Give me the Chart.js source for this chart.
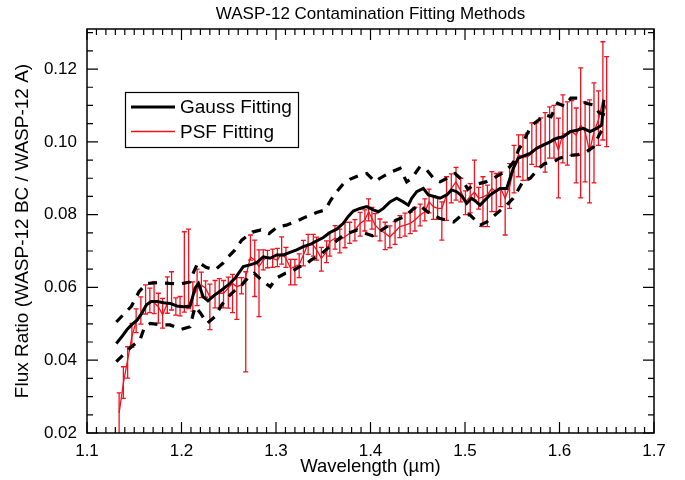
<!DOCTYPE html>
<html><head><meta charset="utf-8">
<script src="https://cdn.jsdelivr.net/npm/chart.js@4"></script>
<style>html,body{margin:0;padding:0;background:#fff}canvas{display:block}</style>
</head><body>
<canvas id="c" width="685" height="480"></canvas>
<script>
// ---- PSF fitting (red, with asymmetric error bars) ----
const psfWave = [1.134,1.1385,1.143,1.1475,1.152,1.157,1.162,1.1665,1.171,1.1755,1.180,1.185,1.1895,1.194,1.1985,1.203,1.2075,
 1.212,1.2165,1.221,1.2255,1.230,1.2355,1.240,1.2445,1.2495,1.254,1.2585,1.2635,1.268,1.273,1.2775,1.282,1.2865,1.291,1.2965,1.3015,1.306,1.3105,1.3155,1.320,1.3245,1.329,
 1.334,1.3395,1.343,1.348,1.3535,1.357,1.3625,1.3675,1.373,1.378,1.3835,1.389,1.394,1.398,1.4015,1.405,1.410,1.4155,1.4205,1.426,1.431,1.4365,1.442,1.447,1.4525,1.4575,
 1.462,1.4665,1.471,1.4755,1.4805,1.4855,1.4905,1.4955,1.5005,1.5055,1.510,1.5145,
 1.519,1.5237,1.5284,1.5331,1.5378,1.5425,1.5472,1.5519,1.5566,1.5613,1.566,1.5707,1.5754,1.5801,1.5848,1.5895,1.5942,1.5989,1.6036,1.6083,1.613,1.6177,1.6224,1.6271,1.6318,1.6365,1.6412,1.6459,1.6499];
const psfFlux = [0.0255,0.0337,0.0401,0.0465,0.0506,0.0529,0.0552,0.0561,0.0558,0.0547,0.0525,0.0556,0.0558,0.0549,0.0547,0.0547,0.0552,
 0.0575,0.0595,0.0607,0.0598,0.0574,0.0579,0.0584,0.0584,0.0598,0.0611,0.0602,0.0607,0.0629,0.0684,0.0675,0.0657,0.0675,0.0684,0.068,0.0675,0.0694,0.068,0.0652,0.0657,0.0662,0.0689,
 0.0721,0.0716,0.0703,0.068,0.0698,0.0726,0.0735,0.073,0.0739,0.0749,0.0758,0.0776,0.0785,0.0808,0.079,0.0771,0.0758,0.0749,0.0739,0.0753,0.0767,0.0771,0.0776,0.0785,0.0799,0.0808,
 0.0835,0.0822,0.0817,0.0817,0.0854,0.0872,0.089,0.0865,0.0835,0.085,0.0862,0.0845,
 0.0849,0.0854,0.0872,0.0863,0.0872,0.0845,0.0877,0.093,0.0964,0.0959,0.0959,0.0968,0.0982,0.0991,0.0996,0.1,0.101,0.0977,0.1023,0.1019,0.1028,0.1019,0.1046,0.1028,0.0973,0.1028,0.106,0.1115,0.1087];
const psfErrLow = [0.007,0.0042,0.005,0.003,0.003,0.003,0.0025,0.003,0.003,0.0045,0.0037,0.0027,0.002,0.0025,0.0025,0.0015,0.001,
 0.004,0.0045,0.0035,0.0025,0.009,0.0035,0.004,0.004,0.0055,0.008,0.009,0.0025,0.0261,0.0009,0.010,0.0137,0.0027,0.003,0.0025,0.0018,0.003,0.0025,0.0045,0.005,0.0035,0.003,
 0.003,0.003,0.0028,0.0035,0.003,0.004,0.003,0.0035,0.003,0.0028,0.003,0.0035,0.003,0.0025,0.003,0.003,0.003,0.0045,0.003,0.0035,0.003,0.003,0.0028,0.003,0.003,0.0025,
 0.003,0.0035,0.003,0.0087,0.007,0.004,0.005,0.003,0.0035,0.0045,0.0022,0.003,
 0.0082,0.0087,0.0064,0.0055,0.005,0.0101,0.006,0.007,0.006,0.0065,0.0064,0.003,0.005,0.006,0.0079,0.0045,0.0055,0.0131,0.0081,0.0083,0.0065,0.0132,0.02,0.0138,0.0141,0.0141,0.007,0.011,0.01];
const psfErrHigh = [0.0055,0.0045,0.0036,0.0036,0.0035,0.0045,0.0055,0.0037,0.0058,0.0037,0.0045,0.0073,0.0085,0.0022,0.0028,0.0206,0.0208,
 0.004,0.0055,0.0035,0.002,0.0035,0.004,0.004,0.0035,0.003,0.0025,0.0025,0.002,0.0014,0.006,0.0055,0.0046,0.0028,0.0018,0.0025,0.0032,0.0045,0.003,0.0025,0.002,0.003,0.004,
 0.0025,0.003,0.0035,0.003,0.003,0.0025,0.0035,0.003,0.004,0.003,0.0028,0.003,0.0028,0.0035,0.003,0.0032,0.003,0.003,0.003,0.0028,0.003,0.0033,0.003,0.0035,0.003,0.0035,
 0.0035,0.003,0.003,0.0018,0.005,0.004,0.004,0.0035,0.003,0.0035,0.0088,0.003,
 0.0055,0.0027,0.0046,0.005,0.0045,0.0028,0.0063,0.006,0.0055,0.006,0.0065,0.0084,0.007,0.0075,0.0084,0.0096,0.009,0.0088,0.0106,0.0091,0.0085,0.0074,0.0157,0.0082,0.0142,0.0134,0.008,0.016,0.0147];

// ---- Gauss fitting (black solid) ----
const gaussWave = [1.131,1.137,1.142,1.147,1.153,1.158,1.163,1.168,1.174,1.181,1.188,1.195,1.202,1.209,1.2143,1.218,1.223,1.228,1.235,1.2425,1.2495,1.2566,1.2654,1.2725,1.2796,1.2866,1.2937,1.3007,1.3078,1.3148,1.3219,1.3289,1.336,1.3431,1.3501,1.3571,1.3642,1.3712,1.3765,1.3818,1.3889,1.396,1.403,1.4083,1.4136,1.4206,1.4277,1.4347,1.44,1.4436,1.4489,1.4559,1.4612,1.4683,1.4735,1.4806,1.4859,1.4912,1.497,1.5018,1.507,1.512,1.5159,1.5265,1.537,1.5441,1.5511,1.5564,1.5688,1.5759,1.5829,1.59,1.597,1.604,1.6111,1.6182,1.6252,1.6323,1.6394,1.6446,1.647];
const gaussFlux = [0.0446,0.0465,0.0483,0.0497,0.051,0.0529,0.0552,0.0561,0.0561,0.0558,0.0556,0.0549,0.0547,0.0548,0.0598,0.0611,0.0574,0.0563,0.0579,0.0593,0.0607,0.0625,0.0657,0.0662,0.0668,0.0684,0.068,0.0689,0.0689,0.0696,0.0703,0.0712,0.0718,0.0728,0.0737,0.0751,0.076,0.0776,0.0795,0.081,0.0817,0.0822,0.0813,0.0808,0.0817,0.0835,0.0845,0.0835,0.0826,0.0845,0.0863,0.0872,0.0854,0.0849,0.0845,0.0854,0.0868,0.0863,0.085,0.0831,0.0845,0.0835,0.0826,0.0854,0.0872,0.0872,0.0927,0.0955,0.0968,0.0982,0.0991,0.1,0.101,0.1014,0.1028,0.1032,0.1037,0.1028,0.1037,0.1046,0.1115];

// ---- Gauss fitting bounds (black dashed) ----
const upperWave = [1.131,1.138,1.147,1.155,1.163,1.175,1.187,1.2,1.209,1.2125,1.2178,1.226,1.2354,1.244,1.2495,1.2566,1.2637,1.275,1.284,1.2926,1.302,1.311,1.322,1.331,1.343,1.352,1.358,1.363,1.372,1.378,1.389,1.396,1.4048,1.41,1.4224,1.4312,1.4383,1.4436,1.4524,1.4595,1.4683,1.4735,1.4842,1.4895,1.497,1.503,1.51,1.522,1.53,1.54,1.5476,1.553,1.5564,1.5617,1.567,1.571,1.578,1.585,1.591,1.598,1.605,1.612,1.62,1.628,1.636,1.642,1.648];
const upperFlux = [0.0505,0.0524,0.0548,0.0588,0.0611,0.0613,0.0611,0.061,0.0615,0.064,0.067,0.0655,0.0648,0.0667,0.0684,0.0703,0.073,0.0752,0.0758,0.0748,0.0767,0.0771,0.0782,0.0793,0.0806,0.0813,0.084,0.0859,0.0887,0.0897,0.0909,0.0913,0.089,0.09,0.0918,0.0927,0.089,0.09,0.0932,0.0923,0.0895,0.089,0.0904,0.0913,0.0895,0.087,0.0882,0.089,0.09,0.0915,0.0932,0.095,0.0977,0.1,0.1028,0.1046,0.106,0.1074,0.1069,0.1106,0.1098,0.112,0.112,0.1106,0.1101,0.108,0.1074];
const lowerWave = [1.131,1.138,1.147,1.156,1.161,1.167,1.178,1.188,1.2,1.209,1.2143,1.22,1.227,1.235,1.2425,1.2495,1.257,1.264,1.27,1.277,1.287,1.294,1.3,1.31,1.317,1.325,1.33,1.337,1.348,1.358,1.365,1.372,1.38,1.386,1.393,1.402,1.41,1.418,1.427,1.436,1.445,1.452,1.459,1.466,1.473,1.48,1.488,1.495,1.505,1.516,1.523,1.538,1.544,1.551,1.555,1.562,1.569,1.578,1.584,1.593,1.6,1.61,1.62,1.628,1.636,1.642,1.646];
const lowerFlux = [0.0396,0.0414,0.0437,0.0455,0.0492,0.0501,0.0497,0.0497,0.0485,0.0492,0.0547,0.053,0.0501,0.0519,0.0552,0.0574,0.0593,0.0607,0.0625,0.0639,0.0615,0.0602,0.0625,0.0639,0.0645,0.0657,0.066,0.0675,0.0692,0.0715,0.073,0.0745,0.0752,0.0758,0.075,0.0742,0.0755,0.0768,0.0785,0.0794,0.0815,0.0826,0.081,0.0799,0.079,0.0785,0.078,0.0795,0.08,0.0771,0.078,0.0813,0.0826,0.0845,0.0862,0.0895,0.09,0.0927,0.094,0.0944,0.0955,0.0962,0.0965,0.0972,0.0986,0.1019,0.1037];

// ---- axes ----
const xTicks = [1.1,1.2,1.3,1.4,1.5,1.6,1.7];
const yTicks = [0.02,0.04,0.06,0.08,0.10,0.12];
const seriesLabels = ['PSF Fitting','Gauss Fitting','Gauss upper','Gauss lower'];

const FONT = '"Liberation Sans", Arial, Helvetica, sans-serif';
const RED = 'rgb(240,18,30)';
const FS = 17;

function pts(xs, ys){ return xs.map((x,i)=>({x:x, y:ys[i]})); }

const errorBars = {
  id:'errorBars',
  afterDatasetDraw(chart, args){
    if (args.index !== 0) return;
    const {ctx, chartArea:a, scales:{x, y}} = chart;
    ctx.save();
    ctx.beginPath(); ctx.rect(a.left, a.top, a.right-a.left, a.bottom-a.top); ctx.clip();
    ctx.strokeStyle = RED; ctx.lineWidth = 1.3;
    ctx.beginPath();
    for (let i=0;i<psfWave.length;i++){
      const px = x.getPixelForValue(psfWave[i]);
      const yh = y.getPixelForValue(psfFlux[i]+psfErrHigh[i]);
      const yl = y.getPixelForValue(psfFlux[i]-psfErrLow[i]);
      ctx.moveTo(px, yl); ctx.lineTo(px, yh);
      ctx.moveTo(px-2.5, yh); ctx.lineTo(px+2.5, yh);
      ctx.moveTo(px-2.5, yl); ctx.lineTo(px+2.5, yl);
    }
    ctx.stroke();
    ctx.restore();
  }
};

const frameTicks = {
  id:'frameTicks',
  afterDraw(chart){
    const {ctx, chartArea:a, scales:{x, y}} = chart;
    ctx.save();
    ctx.strokeStyle = '#000'; ctx.lineWidth = 1.2;
    ctx.beginPath();
    for (let k=0;k<=60;k++){
      const px = x.getPixelForValue(xTicks[0] + k*0.01);
      const len = (k%10===0) ? 11 : 6;
      ctx.moveTo(px, a.bottom); ctx.lineTo(px, a.bottom-len);
      ctx.moveTo(px, a.top); ctx.lineTo(px, a.top+len);
    }
    for (let k=0;k<=22;k++){
      const v = yTicks[0] + k*0.005;
      if (v > y.max + 1e-9) break;
      const py = y.getPixelForValue(v);
      const len = (k%4===0) ? 11 : 6;
      ctx.moveTo(a.left, py); ctx.lineTo(a.left+len, py);
      ctx.moveTo(a.right, py); ctx.lineTo(a.right-len, py);
    }
    ctx.stroke();
    ctx.lineWidth = 1.5;
    ctx.strokeRect(a.left, a.top, a.right-a.left, a.bottom-a.top);
    ctx.restore();
  }
};

const legendBox = {
  id:'legendBox',
  afterDraw(chart){
    const ctx = chart.ctx;
    const ds = chart.data.datasets;
    ctx.save();
    ctx.strokeStyle = '#000'; ctx.lineWidth = 1.2;
    ctx.strokeRect(125.5, 92.5, 173, 55);
    const items = [{d:ds[1], y:107}, {d:ds[0], y:131.5}];
    ctx.font = '19px ' + FONT;
    ctx.textBaseline = 'middle'; ctx.textAlign = 'left';
    items.forEach(it=>{
      ctx.beginPath();
      ctx.strokeStyle = it.d.borderColor; ctx.lineWidth = it.d.borderWidth;
      ctx.moveTo(131, it.y); ctx.lineTo(175, it.y); ctx.stroke();
      ctx.fillStyle = '#000';
      ctx.fillText(it.d.label, 180, it.y+1);
    });
    ctx.restore();
  }
};

new Chart(document.getElementById('c'), {
  type: 'line',
  data: {
    datasets: [
      {label: seriesLabels[0], data: pts(psfWave, psfFlux), borderColor: RED, borderWidth: 1.3, pointRadius: 0, fill: false, tension: 0, order: 10},
      {label: seriesLabels[1], data: pts(gaussWave, gaussFlux), borderColor: '#000', borderWidth: 3, pointRadius: 0, fill: false, tension: 0, order: 1},
      {label: seriesLabels[2], data: pts(upperWave, upperFlux), borderColor: '#000', borderWidth: 3.2, borderDash: [9, 8], pointRadius: 0, fill: false, tension: 0, order: 2},
      {label: seriesLabels[3], data: pts(lowerWave, lowerFlux), borderColor: '#000', borderWidth: 3.2, borderDash: [9, 8], pointRadius: 0, fill: false, tension: 0, order: 3}
    ]
  },
  options: {
    responsive: false,
    animation: false,
    devicePixelRatio: 1,
    layout: {padding: {left: 0, right: 31, top: 0, bottom: 0}},
    plugins: {
      legend: {display: false},
      tooltip: {enabled: false},
      title: {display: true, text: 'WASP-12 Contamination Fitting Methods', fullSize: false,
        font: {family: FONT, size: FS, weight: 'normal'}, color: '#000', padding: {top: 4, bottom: 4.6}}
    },
    scales: {
      x: {
        type: 'linear', min: 1.1, max: 1.7,
        afterBuildTicks: s => { s.ticks = xTicks.map(v => ({value: v})); },
        afterFit: s => { s.height = 47; },
        ticks: {callback: v => Number(v).toFixed(1), font: {family: FONT, size: FS}, color: '#000', padding: 0, maxRotation: 0, autoSkip: false},
        grid: {display: false}, border: {display: false},
        title: {display: true, text: 'Wavelength (µm)', font: {family: FONT, size: 18.5}, color: '#000', padding: {top: 0, bottom: 2}}
      },
      y: {
        type: 'linear', min: 0.02, max: 0.131,
        afterBuildTicks: s => { s.ticks = yTicks.map(v => ({value: v})); },
        afterFit: s => { s.width = 87; },
        ticks: {callback: v => Number(v).toFixed(2), font: {family: FONT, size: FS}, color: '#000', padding: 2, autoSkip: false},
        grid: {display: false}, border: {display: false},
        title: {display: true, text: 'Flux Ratio (WASP-12 BC / WASP-12 A)', font: {family: FONT, size: 19}, color: '#000', padding: {top: 11, bottom: 0}}
      }
    }
  },
  plugins: [errorBars, frameTicks, legendBox]
});
</script>
</body></html>
